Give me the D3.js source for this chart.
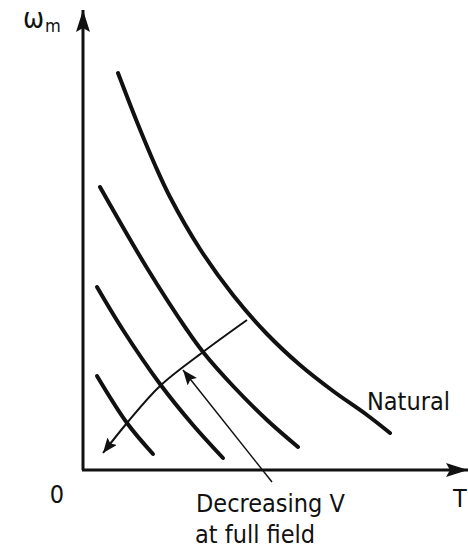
<!DOCTYPE html>
<html lang="en">
<head>
<meta charset="UTF-8">
<title>Speed-torque curves, decreasing V</title>
<script src="https://d3js.org/d3.v7.min.js"></script>
<style>
  body { margin: 0; background: #fff; }
  svg { display: block; }
  text { font-family: 'DejaVu Sans Condensed', 'DejaVu Sans', sans-serif; fill: #111; }
</style>
</head>
<body>
<svg width="468" height="549"></svg>
<script>
// Values (arbitrary torque / speed units)
const naturalT = [35, 54, 72, 87, 117, 150, 184, 217, 250, 284, 307];
const naturalW = [397, 348, 305, 273, 221, 175, 136, 105, 79, 55, 37];

const v2T = [17, 64, 104, 120, 150, 184, 215];
const v2W = [283, 202, 140, 118, 84, 50, 23];

const v3T = [14, 40, 77, 110, 140];
const v3W = [183, 140, 86, 45, 12];

const v4T = [14, 44, 70];
const v4W = [94, 47, 16];

// curved arrow across the family (direction of decreasing V)
const arrowT = [164, 120, 77, 44, 20];
const arrowW = [150, 118, 84, 47, 17];

// leader from the label up to the curved arrow
const leaderT = [189, 100];
const leaderW = [-12, 100];

const svg = d3.select("svg");

const x = d3.scaleLinear().domain([0, 385]).range([83, 468]);
const y = d3.scaleLinear().domain([0, 460]).range([470, 10]);

const zip = (ts, ws) => ts.map((t, i) => [t, ws[i]]);

// arrowhead markers
const defs = svg.append("defs");
function marker(id, len, hw, notch) {
  defs.append("marker")
    .attr("id", id)
    .attr("markerUnits", "userSpaceOnUse")
    .attr("viewBox", `0 ${-hw} ${len} ${hw * 2}`)
    .attr("refX", len)
    .attr("refY", 0)
    .attr("markerWidth", len)
    .attr("markerHeight", hw * 2)
    .attr("orient", "auto")
    .append("path")
    .attr("d", `M0,${-hw} L${len},0 L0,${hw} L${notch},0 Z`)
    .attr("fill", "#111");
}
marker("axisHead", 22, 7, 4);
marker("smallHead", 15, 6, 3);

// axes
svg.append("line")
  .attr("x1", x(0)).attr("y1", y(0))
  .attr("x2", x(0)).attr("y2", y(460))
  .attr("stroke", "#111").attr("stroke-width", 3)
  .attr("marker-end", "url(#axisHead)");

svg.append("line")
  .attr("x1", x(0) - 1).attr("y1", y(0))
  .attr("x2", x(385)).attr("y2", y(0))
  .attr("stroke", "#111").attr("stroke-width", 3)
  .attr("marker-end", "url(#axisHead)");

// speed-torque curves
const line = d3.line()
  .x(d => x(d[0]))
  .y(d => y(d[1]))
  .curve(d3.curveCatmullRom.alpha(0.5));

const curves = [
  zip(naturalT, naturalW),
  zip(v2T, v2W),
  zip(v3T, v3W),
  zip(v4T, v4W)
];

svg.append("g")
  .selectAll("path")
  .data(curves)
  .enter().append("path")
  .attr("d", line)
  .attr("fill", "none")
  .attr("stroke", "#111")
  .attr("stroke-width", 4)
  .attr("stroke-linecap", "round");

// arrows
svg.append("path")
  .attr("d", line(zip(arrowT, arrowW)))
  .attr("fill", "none")
  .attr("stroke", "#111")
  .attr("stroke-width", 2)
  .attr("marker-end", "url(#smallHead)");

svg.append("path")
  .attr("d", d3.line().x(d => x(d[0])).y(d => y(d[1]))(zip(leaderT, leaderW)))
  .attr("fill", "none")
  .attr("stroke", "#111")
  .attr("stroke-width", 1.5)
  .attr("marker-end", "url(#smallHead)");

// labels
const wLabel = svg.append("text").attr("x", 23).attr("y", 28).style("font-size", "28px");
wLabel.append("tspan").text("ω");
wLabel.append("tspan").attr("dx", 1).attr("dy", 4).style("font-size", "18px").text("m");

svg.append("text").attr("x", 57).attr("y", 503)
  .attr("text-anchor", "middle").style("font-size", "25px").text("0");

svg.append("text").attr("x", 453).attr("y", 507)
  .style("font-size", "25px").text("T");

svg.append("text").attr("x", 367).attr("y", 410)
  .style("font-size", "25px").text("Natural");

svg.append("text").attr("x", 196).attr("y", 512)
  .style("font-size", "25px").text("Decreasing V");

svg.append("text").attr("x", 195).attr("y", 543)
  .style("font-size", "25px").text("at full field");
</script>
</body>
</html>
